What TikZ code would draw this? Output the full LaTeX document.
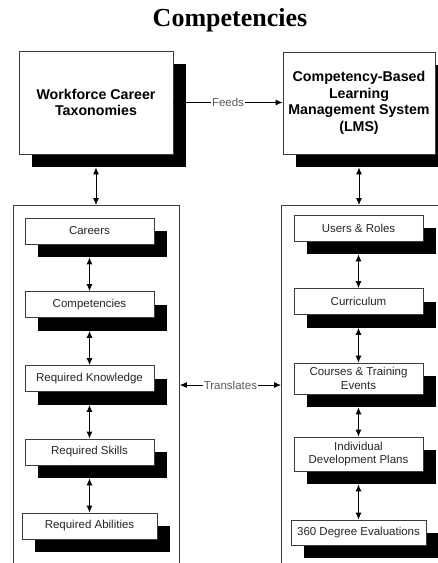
\documentclass[tikz,border=0pt]{standalone}
\usepackage{fontspec}
\setmainfont{Liberation Sans}
\newfontfamily\titlefont{Liberation Serif}
\usepackage{tikz}
\usetikzlibrary{arrows.meta,shadows}
\definecolor{lineclr}{RGB}{60,60,60}
\definecolor{labelclr}{RGB}{90,90,90}

\tikzset{
  shadowbox/.style={draw=lineclr, fill=white, line width=0.8pt, align=center,
    general shadow={fill=black, shadow xshift=13pt, shadow yshift=-13pt}},
  bigbox/.style={shadowbox, font=\fontsize{14.2}{16.5}\selectfont\bfseries},
  itembox/.style={shadowbox, minimum width=129pt, minimum height=26pt,
    inner sep=2pt, text=black!85, font=\fontsize{11.5}{13.5}\selectfont},
  column/.style={draw=lineclr, line width=0.8pt, anchor=north west},
  link/.style={<->, line width=0.9pt},
  flowlabel/.style={fill=white, text=labelclr, inner sep=1pt, font=\fontsize{11.5}{13.5}\selectfont}
}

\begin{document}
\begin{tikzpicture}[x=1pt, y=-1pt, >={Latex[length=7pt,width=6pt]}]
  \useasboundingbox (0,0) rectangle (438,563);
  \clip (0,0) rectangle (438,563);

  % Title
  \node (title) at (230,20) {\titlefont\fontsize{26}{30}\selectfont\bfseries Competencies};

  % Top systems
  \node[bigbox, minimum width=154pt, minimum height=103pt] (wct) at (96,102.5) {Workforce Career\\Taxonomies};
  \node[bigbox, minimum width=152pt, minimum height=102pt] (lms) at (359,103) {Competency-Based\\Learning\\Management System\\(LMS)};

  % Columns
  \node[column, minimum width=166pt, minimum height=380pt] (leftcol) at (13,205) {};
  \node[column, minimum width=170pt, minimum height=380pt] (rightcol) at (281,205) {};

  % Left items
  \node[itembox] (careers) at (89.5,231) {Careers};
  \node[itembox] (comp) at (89.5,304.5) {Competencies};
  \node[itembox] (know) at (89.5,378.5) {Required Knowledge};
  \node[itembox] (skills) at (89.5,452) {Required Skills};
  \node[itembox, minimum width=135pt] (abil) at (89.5,526) {Required Abilities};

  % Right items
  \node[itembox] (users) at (358.5,228) {Users \& Roles};
  \node[itembox] (curr) at (358.5,301.5) {Curriculum};
  \node[itembox, minimum height=31pt] (courses) at (358.5,378.5) {Courses \& Training\\Events};
  \node[itembox, minimum height=34pt] (idp) at (358.5,454) {Individual\\Development Plans};
  \node[itembox, minimum width=135pt, minimum height=25pt] (eval) at (358.5,532.5) {360 Degree Evaluations};

  % Connectors
  \draw[->, line width=0.9pt] (wct.east) -- node[flowlabel] {Feeds} (lms.west |- wct.east);
  \draw[link] ([yshift=-13pt]wct.south) -- (wct.south |- leftcol.north);
  \draw[link] ([yshift=-13pt]lms.south) -- (lms.south |- rightcol.north);

  \foreach \a/\b in {careers/comp, comp/know, know/skills, skills/abil,
                     users/curr, curr/courses, courses/idp, idp/eval}
    \draw[link] ([yshift=-13pt]\a.south) -- (\b.north);

  \coordinate (trans) at (230,385);
  \draw[link] (leftcol.east |- trans) -- node[flowlabel] {Translates} (rightcol.west |- trans);
\end{tikzpicture}
\end{document}
